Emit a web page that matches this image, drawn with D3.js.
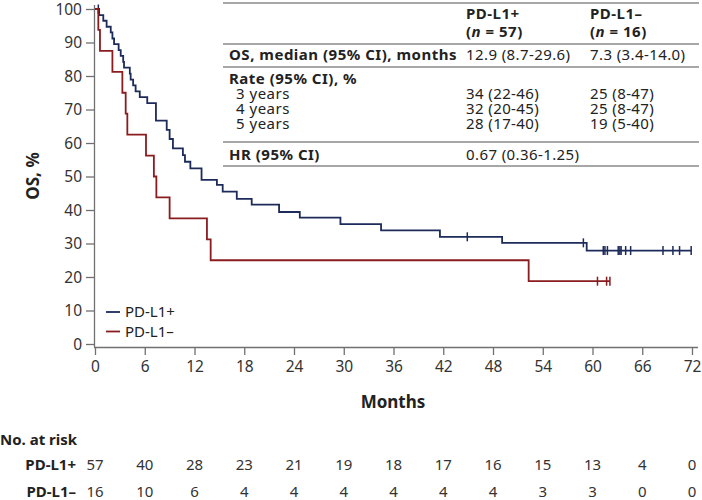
<!DOCTYPE html>
<html>
<head>
<meta charset="utf-8">
<script src="https://cdn.jsdelivr.net/npm/d3@7"></script>
<style>
  body { margin: 0; background: #fff; }
  svg text { font-family: "Noto Sans", "DejaVu Sans", sans-serif; fill: #222; }
</style>
</head>
<body>
<div id="chart"></div>
<script>
// KM steps (months, OS %)
var plusTimes = [0, 0.5, 1.0, 1.4, 1.9, 2.1, 2.3, 2.85, 3.1, 3.4, 3.5, 4.2, 4.3, 4.6, 4.9, 5.4, 6.3, 7.35,
  8.65, 9.0, 9.4, 10.6, 10.85, 11.5, 12.85, 14.7, 15.4, 17.1, 18.9, 22.2, 24.7, 29.6, 34.5, 41.6, 49.1, 59.3];
var plusSurv = [100, 98.2, 96.5, 94.7, 93.0, 91.2, 89.5, 87.7, 86.0, 84.2, 82.5, 80.7, 78.9, 77.2, 75.4, 73.7, 71.9, 66.7,
  63.9, 61.2, 58.4, 56.4, 54.4, 52.4, 49.0, 47.5, 45.5, 43.3, 41.6, 39.4, 37.7, 35.8, 33.9, 32.0, 30.2, 27.9];
var plusCensor = [0.4, 44.9, 58.9, 61.3, 61.5, 61.8, 63.1, 63.3, 63.45, 64.0, 64.6, 68.5, 69.7, 70.5, 71.9];

var minusTimes = [0, 0.4, 0.6, 2.1, 3.3, 3.7, 3.9, 6.15, 7.1, 7.4, 9.0, 13.5, 13.95, 52.3];
var minusSurv = [100, 93.75, 87.5, 81.25, 75, 68.75, 62.5, 56.25, 50, 43.75, 37.5, 31.25, 25, 18.75];
var minusCensor = [60.6, 61.7, 62.1];

var xTicks = [0, 6, 12, 18, 24, 30, 36, 42, 48, 54, 60, 66, 72];
var yTicks = [0, 10, 20, 30, 40, 50, 60, 70, 80, 90, 100];
var riskPlus = [57, 40, 28, 23, 21, 19, 18, 17, 16, 15, 13, 4, 0];
var riskMinus = [16, 10, 6, 4, 4, 4, 4, 4, 4, 3, 3, 0, 0];

var tableRows = ["OS, median (95% CI), months", "Rate (95% CI), %", "3 years", "4 years", "5 years", "HR (95% CI)"];
var tablePlus = ["12.9 (8.7-29.6)", "", "34 (22-46)", "32 (20-45)", "28 (17-40)", "0.67 (0.36-1.25)"];
var tableMinus = ["7.3 (3.4-14.0)", "", "25 (8-47)", "25 (8-47)", "19 (5-40)", ""];

var blue = "#1d2b5b", red = "#8a1c1f", axisCol = "#707070";

var svg = d3.select("#chart").append("svg")
  .attr("width", 702).attr("height", 500);

var x = d3.scaleLinear().domain([0, 72]).range([95, 692]);
var y = d3.scaleLinear().domain([0, 100]).range([344, 9]);

// axes
var gx = svg.append("g").attr("transform", "translate(0,347)")
  .call(d3.axisBottom(x).tickValues(xTicks).tickSize(8).tickSizeOuter(0).tickPadding(6));
gx.select(".domain").attr("d", "M94,0.5H698");
var gy = svg.append("g").attr("transform", "translate(94,0)")
  .call(d3.axisLeft(y).tickValues(yTicks).tickSize(8).tickSizeOuter(0).tickPadding(4));
gy.select(".domain").attr("d", "M0.5,5V347");
svg.selectAll(".domain, .tick line").attr("stroke", axisCol).attr("stroke-width", 1.3);
svg.selectAll(".tick text").attr("font-size", 15.5).style("fill", "#333");
gy.selectAll(".tick text").attr("dy", "0.34em");

svg.append("text").attr("x", 393).attr("y", 408).attr("text-anchor", "middle")
  .attr("font-size", 17).attr("font-weight", "bold").text("Months");
svg.append("text").attr("transform", "translate(39,176) rotate(-90)").attr("text-anchor", "middle")
  .attr("font-size", 17).attr("font-weight", "bold").text("OS, %");

// curves
var line = d3.line().x(d => x(d[0])).y(d => y(d[1])).curve(d3.curveStepAfter);

function drawCurve(times, surv, cens, col) {
  var pts = times.map((t, i) => [t, surv[i]]);
  var last = d3.max(cens);
  if (last > times[times.length - 1]) pts.push([last, surv[surv.length - 1]]);
  svg.append("path").datum(pts).attr("d", line)
    .attr("fill", "none").attr("stroke", col).attr("stroke-width", 1.8);
  svg.append("g").selectAll("line").data(cens).enter().append("line")
    .attr("x1", d => x(d)).attr("x2", d => x(d))
    .attr("y1", d => y(surv[d3.bisectRight(times, d) - 1]) - 4.5)
    .attr("y2", d => y(surv[d3.bisectRight(times, d) - 1]) + 4.5)
    .attr("stroke", col).attr("stroke-width", 1.5);
}
drawCurve(plusTimes, plusSurv, plusCensor, blue);
drawCurve(minusTimes, minusSurv, minusCensor, red);

// legend
var legend = [["PD-L1+", blue], ["PD-L1\u2013", red]];
legend.forEach(function (d, i) {
  var ly = 312 + i * 19.5;
  svg.append("line").attr("x1", 106).attr("x2", 120).attr("y1", ly).attr("y2", ly)
    .attr("stroke", d[1]).attr("stroke-width", 1.8);
  svg.append("text").attr("x", 125).attr("y", ly + 5).attr("font-size", 15).text(d[0]);
});

// table
var tl = 223, tr = 699, c1 = 466, c2 = 590;
[3, 44, 67, 142, 166].forEach(function (ly) {
  svg.append("line").attr("x1", tl).attr("x2", tr).attr("y1", ly).attr("y2", ly)
    .attr("stroke", "#8a8a8a").attr("stroke-width", 1.3);
});
[["PD-L1+", "57", c1], ["PD-L1\u2013", "16", c2]].forEach(function (h) {
  svg.append("text").attr("x", h[2]).attr("y", 19).attr("font-size", 15).attr("font-weight", "bold")
    .attr("letter-spacing", 0.5).text(h[0]);
  var t = svg.append("text").attr("x", h[2]).attr("y", 37).attr("font-size", 15).attr("font-weight", "bold")
    .attr("letter-spacing", 0.5);
  t.append("tspan").text("(");
  t.append("tspan").attr("font-style", "italic").text("n");
  t.append("tspan").text(" = " + h[1] + ")");
});
var rowY = [60, 84, 99, 114, 129, 160];
tableRows.forEach(function (r, i) {
  var indent = (i >= 2 && i <= 4);
  svg.append("text").attr("x", indent ? 236 : 229).attr("y", rowY[i])
    .attr("font-size", 15).attr("letter-spacing", 0.5)
    .attr("font-weight", indent ? "normal" : "bold").text(r);
  svg.append("text").attr("x", c1).attr("y", rowY[i]).attr("font-size", 15)
    .attr("letter-spacing", 0.4).text(tablePlus[i]);
  svg.append("text").attr("x", c2).attr("y", rowY[i]).attr("font-size", 15)
    .attr("letter-spacing", 0.4).text(tableMinus[i]);
});

// number at risk
svg.append("text").attr("x", 0).attr("y", 445).attr("font-size", 15).attr("font-weight", "bold").text("No. at risk");
[["PD-L1+", riskPlus, 470], ["PD-L1\u2013", riskMinus, 497]].forEach(function (r) {
  svg.append("text").attr("x", 76).attr("y", r[2]).attr("text-anchor", "end")
    .attr("font-size", 15).attr("font-weight", "bold").text(r[0]);
  svg.append("g").selectAll("text").data(r[1]).enter().append("text")
    .attr("x", (d, i) => x(xTicks[i])).attr("y", r[2]).attr("text-anchor", "middle")
    .attr("font-size", 15).style("fill", "#333").text(d => d);
});
</script>
</body>
</html>
